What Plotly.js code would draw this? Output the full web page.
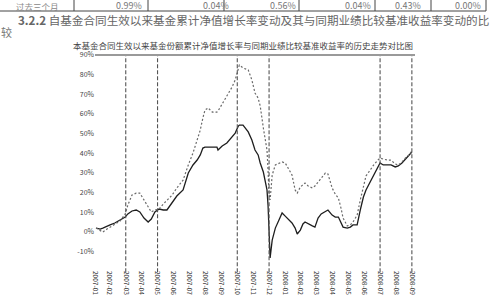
<!DOCTYPE html>
<html>
<head>
<meta charset="utf-8">
<script src="https://cdn.plot.ly/plotly-3.0.1.min.js"></script>
<style>
html,body{margin:0;padding:0;background:#fff;}
#chart{width:497px;height:308px;}
</style>
</head>
<body>
<div id="chart"></div>
<script>
// ---- data ----
var dates = [
"2007-02-02","2007-02-10","2007-02-15","2007-02-23","2007-03-01","2007-03-10","2007-03-20","2007-03-30",
"2007-04-04","2007-04-12","2007-04-20","2007-04-27","2007-05-05","2007-05-13","2007-05-19","2007-05-26",
"2007-06-03","2007-06-11","2007-06-18","2007-06-28","2007-07-07","2007-07-19","2007-07-29","2007-08-07",
"2007-08-15","2007-08-21","2007-08-26","2007-08-30","2007-09-05","2007-09-13","2007-09-22","2007-09-24",
"2007-10-02","2007-10-11","2007-10-21","2007-10-27","2007-11-02","2007-11-04","2007-11-11","2007-11-21",
"2007-11-28","2007-12-04","2007-12-10","2007-12-14","2007-12-20","2007-12-23","2007-12-27","2007-12-29",
"2007-12-31","2008-01-02","2008-01-06","2008-01-12","2008-01-19","2008-01-25","2008-01-31","2008-02-06",
"2008-02-13","2008-02-19","2008-02-23","2008-02-29","2008-03-05","2008-03-09","2008-03-15","2008-03-23",
"2008-03-28","2008-04-03","2008-04-09","2008-04-17","2008-04-22","2008-04-30","2008-05-06","2008-05-12",
"2008-05-17","2008-05-21","2008-05-29","2008-06-04","2008-06-09","2008-06-17","2008-06-23","2008-06-29",
"2008-07-04","2008-07-12","2008-07-20","2008-07-27","2008-07-31","2008-08-06","2008-08-14","2008-08-21",
"2008-08-29","2008-09-04","2008-09-11","2008-09-19","2008-09-25","2008-09-30"
];
var fundReturn = [
2.0,1.5,2.0,3.1,3.6,4.6,6.1,7.6,
9.2,10.7,11.2,10.2,7.1,5.1,6.6,10.2,
11.7,11.2,11.2,15.3,18.3,21.4,30.0,34.1,
36.6,39.2,42.7,43.2,43.2,43.2,43.2,41.7,
43.7,45.3,48.3,50.3,53.9,54.4,54.4,50.9,
46.8,41.7,39.2,35.1,30.5,26.4,21.4,13.7,
-4.1,-13.2,-4.1,2.0,6.1,9.7,8.1,6.6,
4.6,2.0,-1.0,1.0,4.1,5.1,4.1,3.1,
2.5,7.1,9.2,10.7,11.2,8.6,7.6,7.6,
5.1,2.5,2.0,2.5,3.6,3.6,11.2,17.8,
21.4,25.4,29.5,33.1,35.1,34.1,34.1,34.1,
33.1,33.6,35.1,37.6,39.2,40.7
];
var benchmarkReturn = [
2.0,1.0,0.0,1.5,2.5,3.6,5.6,9.2,
13.7,18.8,19.8,19.8,16.3,12.7,10.2,11.2,
11.7,14.2,16.3,18.8,22.4,26.4,34.1,40.2,
46.8,51.9,58.0,62.0,63.1,61.0,61.0,61.5,
65.1,69.2,73.7,77.3,82.4,84.9,83.4,82.4,
77.3,70.7,68.1,64.1,52.9,48.8,41.7,31.5,
18.8,16.3,29.0,34.1,35.1,35.6,35.1,32.5,
29.0,21.4,19.8,22.9,23.9,24.9,23.4,22.4,
23.4,25.4,27.5,30.0,29.5,22.4,19.3,17.3,
12.2,7.1,3.1,3.6,5.1,8.6,16.3,22.4,
28.5,31.5,34.6,36.6,37.6,37.1,36.6,36.6,
34.6,34.1,35.6,38.1,39.2,41.2
];
var tickDates = ["2007-01-31","2007-02-28","2007-03-31","2007-04-30","2007-05-31","2007-06-30","2007-07-31",
"2007-08-31","2007-09-30","2007-10-31","2007-11-30","2007-12-31","2008-01-31","2008-02-29","2008-03-31",
"2008-04-30","2008-05-31","2008-06-30","2008-07-31","2008-08-31","2008-09-30"];
var tickLabels = ["2007-01","2007-02","2007-03","2007-04","2007-05","2007-06","2007-07",
"2007-08","2007-09","2007-10","2007-11","2007-12","2008-01","2008-02","2008-03",
"2008-04","2008-05","2008-06","2008-07","2008-08","2008-09"];
var markerDates = ["2007-03-31","2007-05-31","2007-10-31","2007-12-31","2008-07-31","2008-09-30"];
var yTickVals = [-10,0,10,20,30,40,50,60,70,80,90];
var yTickText = ["-10%","0%","10%","20%","30%","40%","50%","60%","70%","80%","90%"];
var tableRowLabel = "过去三个月";
var tableRowValues = ["0.99%","0.04%","0.56%","0.04%","0.43%","0.00%"];
var headingText = "<b>3.2.2</b> 自基金合同生效以来基金累计净值增长率变动及其与同期业绩比较基准收益率变动的比";
var headingCont = "较";
var chartTitle = "本基金合同生效以来基金份额累计净值增长率与同期业绩比较基准收益率的历史走势对比图";

// ---- layout helpers (pixel -> paper) ----
var L = 95, T = 55, W = 320, H = 215;
function px(x){ return (x - L) / W; }
function py(y){ return (T + H - y) / H; }

var FONT = "Noto Sans CJK SC, Noto Sans, sans-serif";

var traces = [
  {x: dates, y: fundReturn, type: "scatter", mode: "lines", name: "基金",
   line: {color: "#1e1e1e", width: 1.3}, hoverinfo: "skip"},
  {x: dates, y: benchmarkReturn, type: "scatter", mode: "lines", name: "基准",
   line: {color: "#6a6a6a", width: 1.2, dash: "2px,2px"}, hoverinfo: "skip"}
];

var shapes = [];
markerDates.forEach(function(d){
  shapes.push({type: "line", xref: "x", yref: "paper", x0: d, x1: d, y0: -0.01, y1: 1,
    line: {color: "#555", width: 1.1, dash: "4px,2px"}});
});
shapes.push({type: "line", xref: "paper", yref: "paper", x0: 0, x1: 1, y0: 1, y1: 1,
  line: {color: "#9a9a9a", width: 2}});
// table borders
[74,148,224,299,375,431,486].forEach(function(x){
  shapes.push({type: "line", xref: "paper", yref: "paper", x0: px(x), x1: px(x), y0: py(-1), y1: py(11),
    line: {color: "#444", width: 1}});
});
shapes.push({type: "line", xref: "paper", yref: "paper", x0: px(0), x1: px(486), y0: py(11), y1: py(11),
  line: {color: "#444", width: 1}});

var annotations = [];
annotations.push({xref: "paper", yref: "paper", x: px(37), y: py(6), xanchor: "center", yanchor: "middle",
  text: tableRowLabel, showarrow: false, borderpad: 0, font: {family: FONT, size: 8.5, color: "#888"}});
var valRight = [143, 230, 297, 372, 422, 482];
tableRowValues.forEach(function(v, i){
  annotations.push({xref: "paper", yref: "paper", x: px(valRight[i]), y: py(6), xanchor: "right", yanchor: "middle",
    text: v, showarrow: false, borderpad: 0, font: {family: FONT, size: 9, color: "#777"}});
});
annotations.push({xref: "paper", yref: "paper", x: px(17), y: py(20), xanchor: "left", yanchor: "middle",
  text: headingText, showarrow: false, borderpad: 0, font: {family: FONT, size: 11.6, color: "#666"}});
annotations.push({xref: "paper", yref: "paper", x: px(0), y: py(32), xanchor: "left", yanchor: "middle",
  text: headingCont, showarrow: false, borderpad: 0, font: {family: FONT, size: 11, color: "#777"}});
annotations.push({xref: "paper", yref: "paper", x: px(72), y: py(45), xanchor: "left", yanchor: "middle",
  text: chartTitle, showarrow: false, borderpad: 0, font: {family: FONT, size: 8.5, color: "#444"}});

var layout = {
  width: 497, height: 308,
  margin: {l: L, r: 497 - L - W, t: T, b: 308 - T - H, pad: 0},
  paper_bgcolor: "#fff", plot_bgcolor: "#fff",
  showlegend: false,
  xaxis: {type: "date", range: ["2007-01-31", "2008-10-06"], tickmode: "array",
    tickvals: tickDates, ticktext: tickLabels, tickangle: 90,
    tickfont: {family: FONT, size: 6.5, color: "#333"},
    showgrid: false, zeroline: false, showline: false, ticks: ""},
  yaxis: {range: [-19.3, 90], tickmode: "array", tickvals: yTickVals, ticktext: yTickText,
    tickfont: {family: FONT, size: 7, color: "#444"},
    showgrid: false, zeroline: false, showline: false, ticks: ""},
  shapes: shapes,
  annotations: annotations
};

Plotly.newPlot("chart", traces, layout, {displayModeBar: false, staticPlot: true});
</script>
</body>
</html>
